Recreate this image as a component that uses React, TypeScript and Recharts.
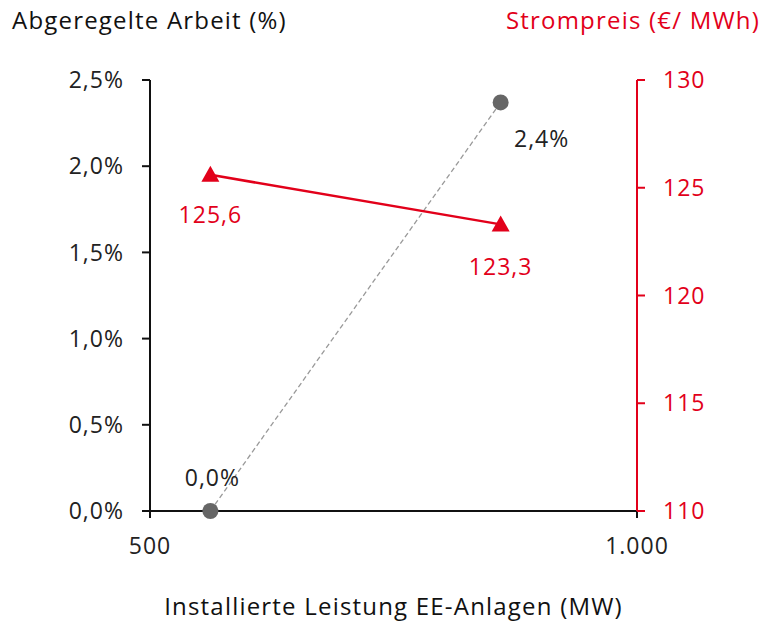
import React from 'react';
import { LineChart, Line, XAxis, YAxis, LabelList } from 'recharts';

// installed capacity (MW)
const capacity = [562, 860];
// curtailed energy (%)
const curtailed = [0.0, 2.37];
// power price (EUR/MWh)
const price = [125.6, 123.3];

const xTicks = [500, 1000];
const leftTicks = [0, 0.5, 1.0, 1.5, 2.0, 2.5];
const rightTicks = [110, 115, 120, 125, 130];

const RED = '#e2001a';
const FONT = '"Open Sans", sans-serif';
const FS = 23;
const LS = 1;

const data = capacity.map((c, i) => ({ x: c, share: curtailed[i], price: price[i] }));

const fmtPct = (v: number) => v.toFixed(1).replace('.', ',') + '%';
const fmtNum = (v: number) => v.toLocaleString('de-DE');

function Triangle(props: any) {
    const { cx, cy } = props;
    if (cx == null || cy == null) return null;
    return <path d={`M${cx},${cy - 9} L${cx + 9},${cy + 7} L${cx - 9},${cy + 7} Z`} fill={RED} />;
}

function ShareLabel(props: any) {
    const { x, y, index, value } = props;
    const dx = index === 0 ? 2 : 41;
    const dy = index === 0 ? -25 : 45;
    return (
        <text x={x + dx} y={y + dy} textAnchor="middle" fontSize={FS} letterSpacing={LS} fill="#222" fontFamily={FONT}>
            {fmtPct(value)}
        </text>
    );
}

function PriceLabel(props: any) {
    const { x, y, index, value } = props;
    const dy = index === 0 ? 48 : 51;
    return (
        <text x={x} y={y + dy} textAnchor="middle" fontSize={FS} letterSpacing={LS} fill={RED} fontFamily={FONT}>
            {value.toFixed(1).replace('.', ',')}
        </text>
    );
}

export default function App() {
    const tickStyle = { fontSize: FS, fill: '#222', fontFamily: FONT, letterSpacing: LS };
    return (
        <div style={{ position: 'absolute', left: 0, top: 0, width: 764, height: 622, fontFamily: FONT }}>
            <div style={{ position: 'absolute', left: 12, top: 3, fontSize: 24, letterSpacing: 1.2, color: '#111' }}>
                Abgeregelte Arbeit (%)
            </div>
            <div style={{ position: 'absolute', right: 4, top: 3, fontSize: 24, letterSpacing: 1.2, color: RED }}>
                Strompreis (€/ MWh)
            </div>
            <div style={{ position: 'absolute', left: 150, width: 487, top: 589, textAlign: 'center', fontSize: 24, letterSpacing: 1.2, color: '#111' }}>
                Installierte Leistung EE-Anlagen (MW)
            </div>
            <LineChart width={764} height={622} data={data} margin={{ top: 80, right: 0, bottom: 0, left: 0 }}>
                <XAxis
                    dataKey="x"
                    type="number"
                    domain={[500, 1000]}
                    ticks={xTicks}
                    tickFormatter={fmtNum}
                    height={111}
                    stroke="#111"
                    strokeWidth={2}
                    tickSize={7}
                    tickMargin={20}
                    tick={tickStyle}
                />
                <YAxis
                    yAxisId="left"
                    orientation="left"
                    domain={[0, 2.5]}
                    ticks={leftTicks}
                    tickFormatter={fmtPct}
                    width={150}
                    stroke="#111"
                    strokeWidth={2}
                    tickSize={8}
                    tickMargin={18}
                    tick={tickStyle}
                />
                <YAxis
                    yAxisId="right"
                    orientation="right"
                    domain={[110, 130]}
                    ticks={rightTicks}
                    width={127}
                    stroke={RED}
                    strokeWidth={2}
                    tickSize={8}
                    tickMargin={18}
                    tick={{ ...tickStyle, fill: RED }}
                />
                <Line
                    yAxisId="left"
                    dataKey="share"
                    stroke="#999"
                    strokeWidth={1.3}
                    strokeDasharray="5 3"
                    dot={{ r: 8, fill: '#666', stroke: 'none' }}
                    isAnimationActive={false}
                >
                    <LabelList dataKey="share" content={<ShareLabel />} />
                </Line>
                <Line
                    yAxisId="right"
                    dataKey="price"
                    stroke={RED}
                    strokeWidth={2.5}
                    dot={<Triangle />}
                    isAnimationActive={false}
                >
                    <LabelList dataKey="price" content={<PriceLabel />} />
                </Line>
            </LineChart>
        </div>
    );
}
